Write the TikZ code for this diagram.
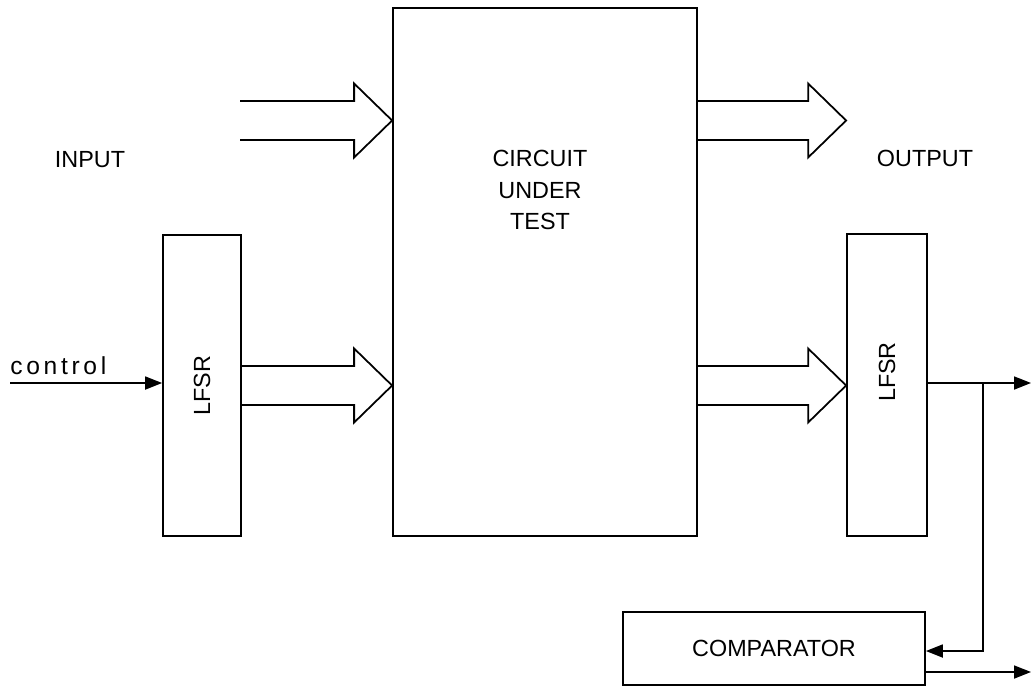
\documentclass[tikz,border=0pt]{standalone}
\usepackage{tikz}
\usetikzlibrary{arrows.meta, positioning, calc}
\usepackage{fontspec}
\setmainfont{Liberation Sans}
\tikzset{
  block/.style={draw, line width=1pt, inner sep=0pt},
  sig/.style={line width=1pt, -{Triangle[length=3.4mm,width=2.6mm]}},
  lbl/.style={font=\fontsize{13.3}{18}\selectfont, align=center},
}
% hollow bus arrow: #1 tail point (centre), #2 tip
\newcommand{\busarrow}[2]{%
  \draw[line width=1pt, line join=miter]
    ($(#1)+(0,0.39)$) -- ($(#2)+(-0.76,0.39)$) -- ($(#2)+(-0.76,0.74)$) -- (#2)
    -- ($(#2)+(-0.76,-0.74)$) -- ($(#2)+(-0.76,-0.39)$) -- ($(#1)+(0,-0.39)$);}

\begin{document}
\begin{tikzpicture}
        \useasboundingbox (0,0) rectangle (20.68,-13.74);

        % Blocks
        \node[block, minimum width=6.08cm, minimum height=10.56cm] (cut) at (10.9,-5.44) {};
        \node[block, minimum width=1.56cm, minimum height=6.02cm] (lfsrin) at (4.04,-7.71) {};
        \node[block, minimum width=1.6cm, minimum height=6.04cm] (lfsrout) at (17.74,-7.70) {};
        \node[block, minimum width=6.04cm, minimum height=1.46cm] (comp) at (15.48,-12.97) {};

        % Texts
        \node[lbl] (cuttext) at (10.8,-3.8) {CIRCUIT\\UNDER\\TEST};
        \node[lbl, rotate=90] (lfsrintext) at (lfsrin.center) {LFSR};
        \node[lbl, rotate=90] (lfsrouttext) at (17.74,-7.44) {LFSR};
        \node[lbl] (comptext) at (comp.center) {COMPARATOR};
        \node[lbl] (input) at (1.8,-3.2) {INPUT};
        \node[lbl] (output) at (18.5,-3.16) {OUTPUT};
        \node[font=\fontsize{14}{16}\selectfont\addfontfeature{LetterSpace=15}, anchor=south west, inner sep=0pt]
          (ctrltext) at (0.2,-7.5) {control};

        % Bus arrows
        \coordinate (intail) at (4.8,-2.41);
        \busarrow{intail}{cut.west |- intail}
        \busarrow{cut.east |- intail}{lfsrout.west |- intail}
        \busarrow{lfsrin.east}{cut.west |- lfsrin.east}
        \busarrow{cut.east |- lfsrin.east}{lfsrout.west |- lfsrin.east}

        % Signals
        \coordinate (ctrlin) at (0.2,-7.66);
        \coordinate (sigout) at (20.62,-7.66);
        \coordinate (branch) at (19.66,-7.66);
        \coordinate (compout) at (20.62,-13.44);
        \draw[sig] (ctrlin) -- (lfsrin.west |- ctrlin);
        \draw[sig] (lfsrout.east |- sigout) -- (sigout);
        \draw[sig] (branch) |- (comp.east |- 0,-13.02);
        \draw[sig] (comp.east |- compout) -- (compout);
    \end{tikzpicture}
\end{document}
